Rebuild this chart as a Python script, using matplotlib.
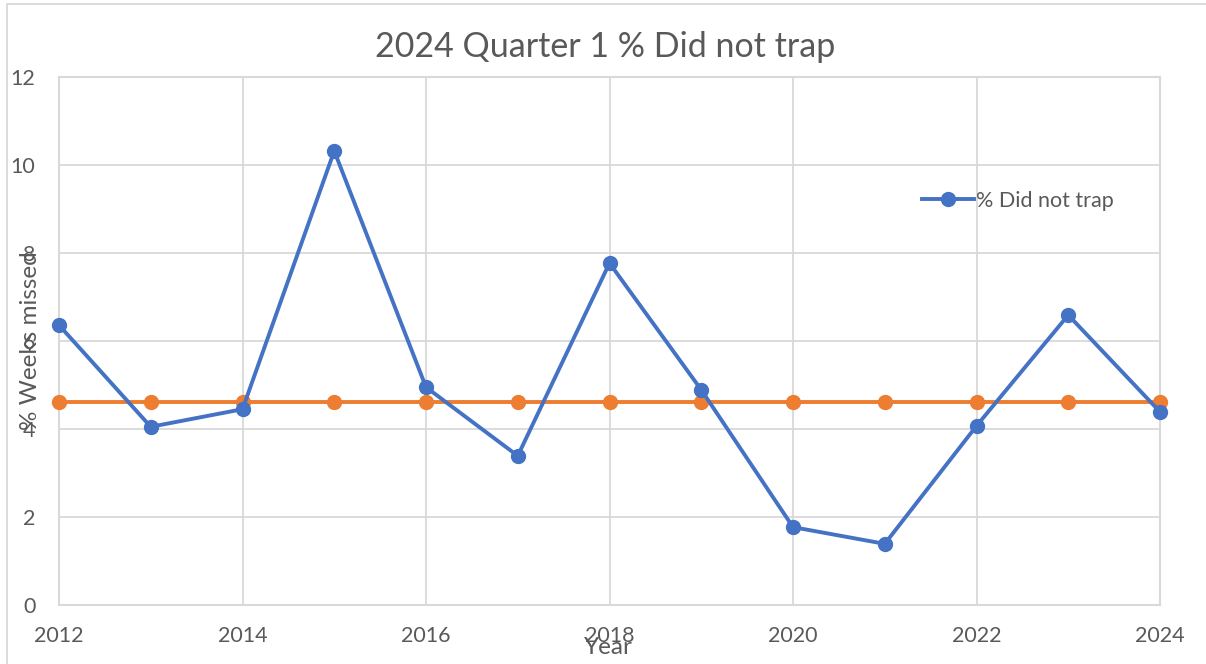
import matplotlib
matplotlib.use("Agg")
import matplotlib.pyplot as plt
from matplotlib.patches import Rectangle
from matplotlib.lines import Line2D

years = [2012, 2013, 2014, 2015, 2016, 2017, 2018, 2019, 2020, 2021, 2022, 2023, 2024]
did_not_trap = [6.36, 4.05, 4.45, 10.32, 4.95, 3.39, 7.77, 4.89, 1.77, 1.39, 4.07, 6.59, 4.39]
average = [4.61] * len(years)
title = "2024 Quarter 1 % Did not trap"
series_label = "% Did not trap"
x_label = "Year"
y_label = "% Weeks missed"

plt.rcParams['font.family'] = ['Lato', 'DejaVu Sans']
W, H = 1206, 664
fig = plt.figure(figsize=(W / 100, H / 100), dpi=100)
ax = fig.add_axes([59 / W, 1 - 605 / H, (1160 - 59) / W, (605 - 77) / H])

blue = '#4472C4'
orange = '#ED7D31'
grid = '#D9D9D9'
txt = '#595959'

ax.plot(years, average, color=orange, lw=2.8, marker='o', ms=10, zorder=3, clip_on=False)
ax.plot(years, did_not_trap, color=blue, lw=2.8, marker='o', ms=10, zorder=4, clip_on=False)

ax.set_xlim(2012, 2024)
ax.set_ylim(0, 12)
ax.set_xticks(range(2012, 2025, 2))
ax.set_yticks(range(0, 13, 2))
ax.grid(True, color=grid, lw=1.3)
ax.set_axisbelow(True)
for s in ax.spines.values():
    s.set_color(grid)
    s.set_linewidth(1.5)
ax.tick_params(length=0, labelsize=15.5, labelcolor=txt)
ax.tick_params(axis='y', pad=17)
ax.tick_params(axis='x', pad=15)

fig.text(605 / W, 1 - 47 / H, title, ha='center', va='center', fontsize=24.5, color=txt)
fig.text(31 / W, 1 - 341 / H, y_label, ha='center', va='center', rotation=90, fontsize=17.5, color=txt)
fig.text(608 / W, 1 - 648 / H, x_label, ha='center', va='center', fontsize=17.5, color=txt)

handle = Line2D([], [], color=blue, lw=2.8, marker='o', ms=10)
ax.legend([handle], [series_label], loc='center left', bbox_to_anchor=((922 - 59) / (1160 - 59), (605 - 201) / (605 - 77)),
          frameon=False, fontsize=15.5, labelcolor=txt, handlelength=2.4, handletextpad=0.1, borderpad=0, borderaxespad=0)

fig.add_artist(Rectangle((7 / W, -0.1), 1.1, 1 - 4 / H + 0.1, transform=fig.transFigure,
                         fill=False, edgecolor=grid, lw=1.3))

fig.savefig("out.png", dpi=100)
